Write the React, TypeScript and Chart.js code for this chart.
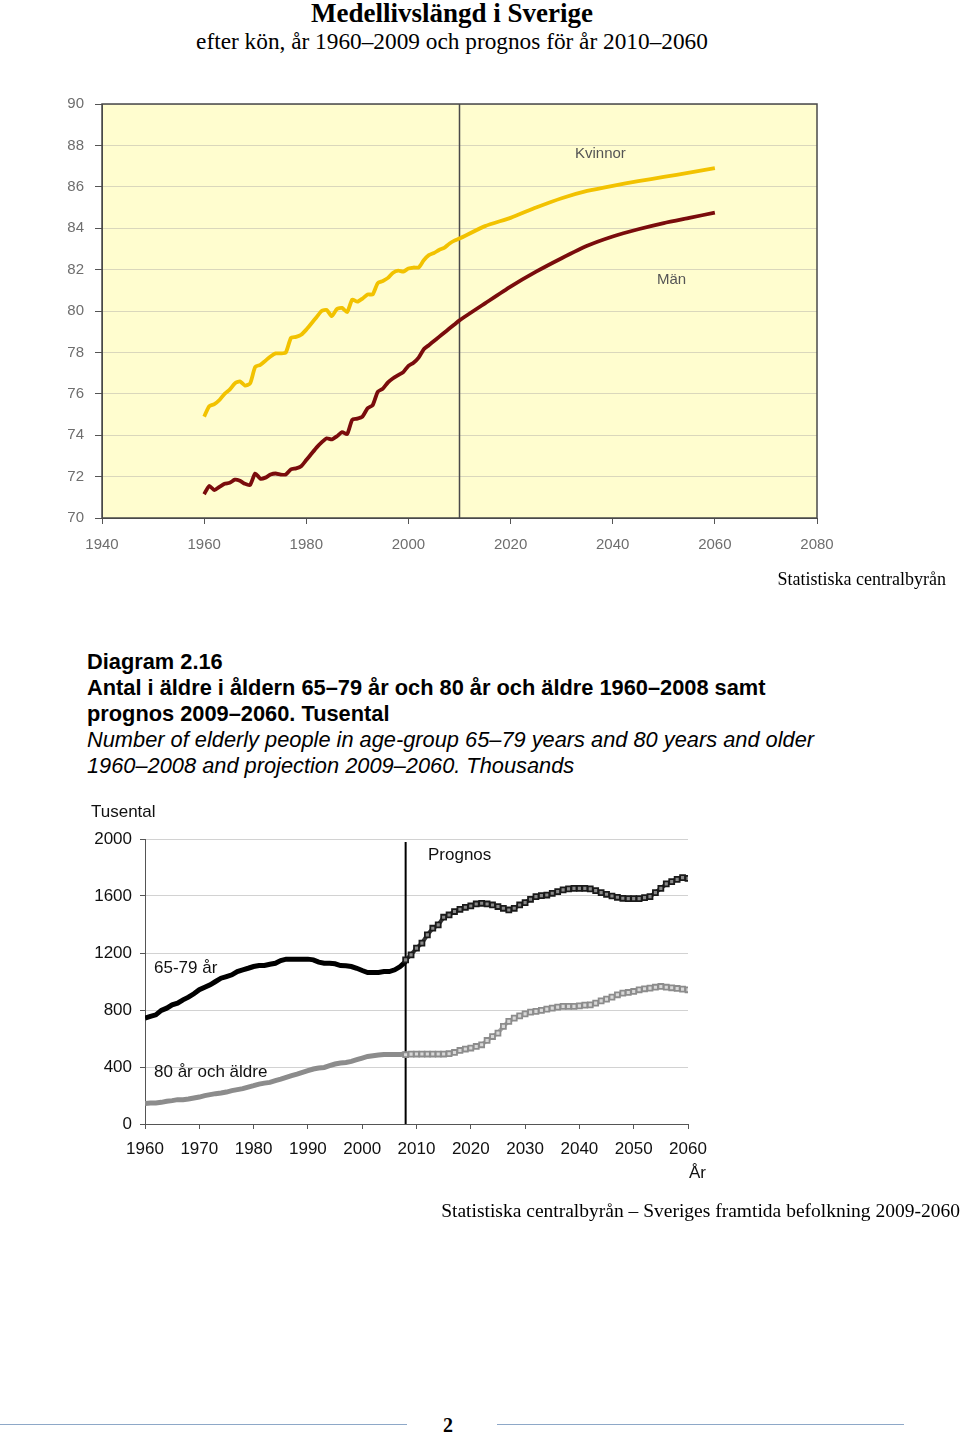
import React, { useEffect, useRef } from "react";
import { Chart, registerables } from "chart.js";
Chart.register(...registerables);

// ---------- Chart 1: Medellivslängd ----------
const lifeHistStart = 1960; // yearly values 1960–2009
const womenHist = [
  74.9, 75.4, 75.5, 75.7, 76.0, 76.2, 76.5, 76.6, 76.4, 76.5,
  77.3, 77.4, 77.6, 77.8, 77.95, 77.95, 78.0, 78.7, 78.75, 78.85,
  79.1, 79.4, 79.7, 80.0, 80.05, 79.75, 80.1, 80.15, 79.95, 80.55,
  80.45, 80.6, 80.8, 80.8, 81.35, 81.45, 81.6, 81.85, 81.95, 81.9,
  82.05, 82.1, 82.1, 82.45, 82.7, 82.8, 82.95, 83.05, 83.25, 83.4,
];
const menHist = [
  71.15, 71.55, 71.35, 71.5, 71.65, 71.7, 71.85, 71.8, 71.65, 71.6,
  72.15, 71.9, 71.95, 72.1, 72.15, 72.1, 72.1, 72.35, 72.4, 72.5,
  72.8, 73.1, 73.4, 73.65, 73.85, 73.8, 73.95, 74.15, 74.05, 74.75,
  74.8, 74.9, 75.3, 75.45, 76.1, 76.25, 76.55, 76.75, 76.9, 77.05,
  77.35, 77.5, 77.75, 78.15, 78.35, 78.55, 78.75, 78.95, 79.15, 79.35,
];
const lifePrognosYears = [2010, 2015, 2020, 2025, 2030, 2035, 2040, 2045, 2050, 2055, 2060];
const womenPrognos = [83.5, 84.1, 84.5, 85.0, 85.45, 85.8, 86.05, 86.27, 86.48, 86.68, 86.9];
const menPrognos = [79.55, 80.37, 81.18, 81.9, 82.55, 83.15, 83.6, 83.95, 84.25, 84.5, 84.75];
const lifeXTicks = [1940, 1960, 1980, 2000, 2020, 2040, 2060, 2080];
const lifeYTicks = [70, 72, 74, 76, 78, 80, 82, 84, 86, 88, 90];
const lifePrognosStart = 2010;

// ---------- Chart 2: Antal äldre ----------
const elderHistStart = 1960; // yearly 1960–2008
const age6579Hist = [
  743, 755, 766, 797, 813, 836, 848, 871, 890, 914,
  942, 960, 977, 1000, 1023, 1035, 1047, 1070, 1082, 1093,
  1105, 1112, 1112, 1121, 1128, 1147, 1157, 1157, 1157, 1157,
  1157, 1152, 1136, 1128, 1128, 1124, 1112, 1110, 1105, 1093,
  1077, 1063, 1063, 1063, 1070, 1070, 1082, 1105, 1140,
];
const age80Hist = [
  143, 147, 147, 152, 159, 164, 171, 171, 175, 182,
  189, 199, 206, 213, 217, 224, 234, 241, 248, 259,
  269, 280, 287, 292, 304, 315, 327, 339, 350, 362,
  374, 386, 393, 397, 409, 421, 428, 432, 439, 451,
  463, 474, 479, 484, 488, 488, 488, 488, 491,
];
const elderPrognosStart = 2008; // yearly 2008–2060
const age6579Prognos = [
  1152, 1187, 1234, 1269, 1327, 1374, 1397, 1451, 1467, 1491, 1507, 1521, 1530,
  1544, 1549, 1544, 1537, 1526, 1514, 1502, 1514, 1537, 1554,
  1577, 1596, 1603, 1607, 1619, 1631, 1643, 1650, 1654, 1654,
  1654, 1650, 1638, 1624, 1612, 1600, 1591, 1584, 1582, 1582,
  1582, 1589, 1596, 1624, 1654, 1685, 1701, 1717, 1729, 1724,
];
const age80Prognos = [
  486, 490, 491, 491, 491, 491, 491, 491, 493, 502, 516, 526, 533,
  544, 556, 586, 614, 638, 685, 720, 743, 759, 773,
  785, 790, 797, 806, 813, 820, 825, 825, 825, 829,
  834, 836, 848, 864, 876, 890, 907, 918, 923, 930,
  942, 949, 953, 960, 965, 960, 956, 951, 946, 942,
];
const elderXTicks = [1960, 1970, 1980, 1990, 2000, 2010, 2020, 2030, 2040, 2050, 2060];
const elderYTicks = [0, 400, 800, 1200, 1600, 2000];

const SANS = "'Liberation Sans', Arial, sans-serif";
const SERIF = "'Liberation Serif', 'Times New Roman', serif";

const seq = (start: number, vals: number[]) => vals.map((v, i) => ({ x: start + i, y: v }));
const pairs = (xs: number[], vals: number[]) => vals.map((v, i) => ({ x: xs[i], y: v }));

function LifeChart() {
  const ref = useRef<HTMLCanvasElement>(null);
  useEffect(() => {
    const bgPlugin = {
      id: "bg1",
      beforeDraw(chart: any) {
        const { ctx, chartArea: a } = chart;
        ctx.save();
        ctx.fillStyle = "#FFFDCF";
        ctx.fillRect(a.left, a.top, a.right - a.left, a.bottom - a.top);
        ctx.restore();
      },
      beforeDatasetsDraw(chart: any) {
        const { ctx, chartArea: a, scales } = chart;
        ctx.save();
        ctx.strokeStyle = "#4a4a4a";
        ctx.lineWidth = 1.5;
        ctx.strokeRect(a.left, a.top, a.right - a.left, a.bottom - a.top);
        const x = scales.x.getPixelForValue(lifePrognosStart);
        ctx.beginPath();
        ctx.moveTo(x, a.top);
        ctx.lineTo(x, a.bottom);
        ctx.stroke();
        ctx.restore();
      },
    };
    const chart = new Chart(ref.current!, {
      type: "line",
      data: {
        datasets: [
          {
            label: "Kvinnor",
            data: [...seq(lifeHistStart, womenHist), ...pairs(lifePrognosYears, womenPrognos)],
            borderColor: "#F2C200",
            borderWidth: 3.8,
            pointRadius: 0,
            tension: 0.2,
          },
          {
            label: "Män",
            data: [...seq(lifeHistStart, menHist), ...pairs(lifePrognosYears, menPrognos)],
            borderColor: "#7A0C0C",
            borderWidth: 3.8,
            pointRadius: 0,
            tension: 0.2,
          },
        ],
      },
      options: {
        animation: false,
        responsive: false,
        maintainAspectRatio: false,
        events: [],
        layout: { padding: { top: 104, right: 143, left: 0, bottom: 0 } },
        plugins: { legend: { display: false }, tooltip: { enabled: false } },
        scales: {
          x: {
            type: "linear",
            min: lifeXTicks[0],
            max: lifeXTicks[lifeXTicks.length - 1],
            afterFit: (s: any) => { s.height = 52; },
            afterBuildTicks: (s: any) => { s.ticks = lifeXTicks.map((v) => ({ value: v })); },
            ticks: {
              callback: (v: any) => String(v),
              font: { family: SANS, size: 15 },
              color: "#6e6e6e",
              padding: 12,
              maxRotation: 0,
              autoSkip: false,
            },
            grid: { drawOnChartArea: false, tickLength: 6, tickColor: "#555" },
            border: { display: true, color: "#4a4a4a" },
          },
          y: {
            min: 70,
            max: 90,
            afterFit: (s: any) => { s.width = 102; },
            afterBuildTicks: (s: any) => { s.ticks = lifeYTicks.map((v) => ({ value: v })); },
            ticks: {
              callback: (v: any) => String(v),
              font: { family: SANS, size: 15 },
              color: "#6e6e6e",
              padding: 11,
            },
            grid: { color: "#DAD7BC", tickColor: "#555", tickLength: 7, lineWidth: 1 },
            border: { display: true, color: "#4a4a4a" },
          },
        },
      },
      plugins: [bgPlugin],
    });
    return () => chart.destroy();
  }, []);
  return <canvas ref={ref} width={960} height={570} style={{ display: "block" }} />;
}

function ElderChart() {
  const ref = useRef<HTMLCanvasElement>(null);
  useEffect(() => {
    const linePlugin = {
      id: "prog2",
      beforeDatasetsDraw(chart: any) {
        const { ctx, chartArea: a, scales } = chart;
        const x = scales.x.getPixelForValue(elderPrognosStart);
        ctx.save();
        ctx.strokeStyle = "#000";
        ctx.lineWidth = 2;
        ctx.beginPath();
        ctx.moveTo(x, a.top + 3);
        ctx.lineTo(x, a.bottom);
        ctx.stroke();
        ctx.restore();
      },
    };
    const chart = new Chart(ref.current!, {
      type: "line",
      data: {
        datasets: [
          {
            label: "80 år och äldre (prognos)",
            data: seq(elderPrognosStart, age80Prognos),
            borderColor: "#a8a8a8",
            borderWidth: 4,
            pointStyle: "rect",
            pointRadius: 3.5,
            pointBorderWidth: 1.8,
            pointBorderColor: "#8c8c8c",
            pointBackgroundColor: "#d8d8d8",
          },
          {
            label: "80 år och äldre",
            data: seq(elderHistStart, age80Hist),
            borderColor: "#8c8c8c",
            borderWidth: 5,
            pointRadius: 0,
          },
          {
            label: "65-79 år (prognos)",
            data: seq(elderPrognosStart, age6579Prognos),
            borderColor: "#3a3a3a",
            borderWidth: 4,
            pointStyle: "rect",
            pointRadius: 3.5,
            pointBorderWidth: 1.8,
            pointBorderColor: "#1a1a1a",
            pointBackgroundColor: "#8a8a8a",
          },
          {
            label: "65-79 år",
            data: seq(elderHistStart, age6579Hist),
            borderColor: "#000",
            borderWidth: 5,
            pointRadius: 0,
          },
        ],
      },
      options: {
        animation: false,
        responsive: false,
        maintainAspectRatio: false,
        events: [],
        layout: { padding: { top: 39, right: 272, left: 0, bottom: 0 } },
        plugins: { legend: { display: false }, tooltip: { enabled: false } },
        scales: {
          x: {
            type: "linear",
            min: elderXTicks[0],
            max: elderXTicks[elderXTicks.length - 1],
            afterFit: (s: any) => { s.height = 76; },
            afterBuildTicks: (s: any) => { s.ticks = elderXTicks.map((v) => ({ value: v })); },
            ticks: {
              callback: (v: any) => String(v),
              font: { family: SANS, size: 17 },
              color: "#111",
              padding: 10,
              maxRotation: 0,
              autoSkip: false,
            },
            grid: { drawOnChartArea: false, tickLength: 5, tickColor: "#555" },
            border: { display: true, color: "#555" },
          },
          y: {
            min: 0,
            max: 2000,
            afterFit: (s: any) => { s.width = 145; },
            afterBuildTicks: (s: any) => { s.ticks = elderYTicks.map((v) => ({ value: v })); },
            ticks: {
              callback: (v: any) => String(v),
              font: { family: SANS, size: 17 },
              color: "#111",
              padding: 8,
            },
            grid: { color: "#d2d2d2", tickColor: "#555", tickLength: 5 },
            border: { display: true, color: "#555" },
          },
        },
      },
      plugins: [linePlugin],
    });
    return () => chart.destroy();
  }, []);
  return <canvas ref={ref} width={960} height={400} style={{ display: "block" }} />;
}

const abs = (left: number, top: number, extra: React.CSSProperties = {}): React.CSSProperties => ({
  position: "absolute",
  left,
  top,
  whiteSpace: "nowrap",
  ...extra,
});

export default function App() {
  return (
    <div style={{ position: "absolute", left: 0, top: 0, width: 960, height: 1434, background: "#fff", overflow: "hidden" }}>
      <div style={abs(452, -3, { transform: "translateX(-50%)", font: `bold 27px ${SERIF}`, lineHeight: "32px", color: "#000" })}>
        Medellivslängd i Sverige
      </div>
      <div style={abs(452, 27, { transform: "translateX(-50%)", font: `23.3px ${SERIF}`, lineHeight: "28px", color: "#000" })}>
        efter kön, år 1960–2009 och prognos för år 2010–2060
      </div>

      <div style={abs(0, 0)}>
        <LifeChart />
      </div>
      <div style={abs(575, 144, { font: `15px ${SANS}`, lineHeight: "18px", color: "#555" })}>Kvinnor</div>
      <div style={abs(657, 270, { font: `15px ${SANS}`, lineHeight: "18px", color: "#555" })}>Män</div>

      <div style={abs(946, 568, { transform: "translateX(-100%)", font: `18px ${SERIF}`, lineHeight: "22px", color: "#000" })}>
        Statistiska centralbyrån
      </div>

      <div style={abs(87, 649, { font: `bold 21.8px ${SANS}`, lineHeight: "26px", color: "#000" })}>
        <div>Diagram 2.16</div>
        <div>Antal i äldre i åldern 65–79 år och 80 år och äldre 1960–2008 samt</div>
        <div>prognos 2009–2060. Tusental</div>
        <div style={{ fontWeight: "normal", fontStyle: "italic" }}>
          Number of elderly people in age-group 65–79 years and 80 years and older
        </div>
        <div style={{ fontWeight: "normal", fontStyle: "italic" }}>1960–2008 and projection 2009–2060. Thousands</div>
      </div>

      <div style={abs(0, 800)}>
        <ElderChart />
      </div>
      <div style={abs(91, 802, { font: `17px ${SANS}`, lineHeight: "20px", color: "#111" })}>Tusental</div>
      <div style={abs(428, 845, { font: `17px ${SANS}`, lineHeight: "20px", color: "#111" })}>Prognos</div>
      <div style={abs(154, 958, { font: `17px ${SANS}`, lineHeight: "20px", color: "#111" })}>65-79 år</div>
      <div style={abs(154, 1062, { font: `17px ${SANS}`, lineHeight: "20px", color: "#111" })}>80 år och äldre</div>
      <div style={abs(689, 1163, { font: `17px ${SANS}`, lineHeight: "20px", color: "#111" })}>År</div>

      <div style={abs(960, 1199, { transform: "translateX(-100%)", font: `19.5px ${SERIF}`, lineHeight: "24px", color: "#000" })}>
        Statistiska centralbyrån – Sveriges framtida befolkning 2009-2060
      </div>

      <div style={abs(0, 1424, { width: 407, height: 0, borderTop: "1.5px solid #8EA8C8" })} />
      <div style={abs(497, 1424, { width: 407, height: 0, borderTop: "1.5px solid #8EA8C8" })} />
      <div style={abs(448, 1413, { transform: "translateX(-50%)", font: `bold 20px ${SERIF}`, lineHeight: "24px", color: "#000" })}>2</div>
    </div>
  );
}
